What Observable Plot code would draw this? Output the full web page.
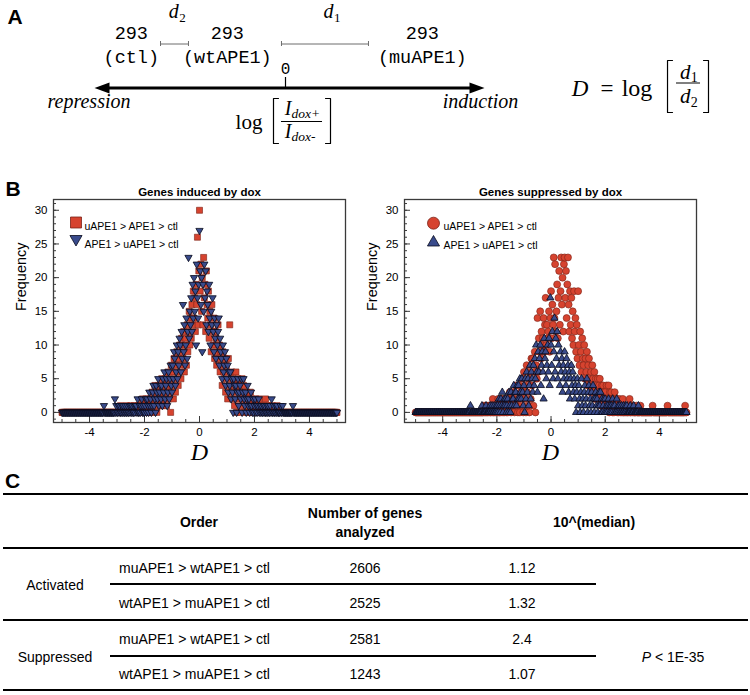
<!DOCTYPE html>
<html>
<head>
<meta charset="utf-8">
<script src="https://cdn.jsdelivr.net/npm/d3@7"></script>
<script src="https://cdn.jsdelivr.net/npm/@observablehq/plot@0.6"></script>
<style>
  html, body { margin: 0; padding: 0; background: #fff; }
  body { width: 750px; height: 695px; position: relative; overflow: hidden; font-family: "Liberation Sans", Arial, Helvetica, sans-serif; color: #000; }
  .abs { position: absolute; }
  .t { position: absolute; white-space: nowrap; }
  .rule { position: absolute; background: #000; height: 2px; }
</style>
</head>
<body>
<div id="panelA" class="abs" style="left:0;top:0;"></div>
<div id="plotInduced" class="abs" style="left:0;top:170px;"></div>
<div id="plotSuppressed" class="abs" style="left:355px;top:170px;"></div>
<div id="panelC" class="abs" style="left:0;top:470px;width:750px;height:225px;"></div>
<script>
// ================= DATA =================
// Panel B: frequency per histogram bin of D (bins of 0.025 from D = -5 to D = 5; one line per unit of D)
const binStart = -5;
const binWidth = 0.025;

// Genes induced by dox — uAPE1 > APE1 > ctl (red squares)
const inducedMu = [
  0,0,0,0,0,0,0,0,0,0, 0,0,0,0,0,0,0,0,0,0, 0,0,0,0,0,0,0,0,0,0, 0,0,0,0,0,0,0,0,0,0,
  0,0,0,0,0,0,0,0,0,0, 0,0,0,0,0,0,0,0,0,0, 0,0,0,0,0,0,0,0,0,0, 0,0,0,0,0,0,0,0,0,0,
  0,0,0,0, 0,1,0,0, 0,0,0,0, 0,0,1,0, 0,0,0,0, 1,0,0,0, 0,1,0,0, 0,0,1,0, 1,0,0,1, 0,2,0,1,
  1,0,2,0, 1,2,0,1, 0,2,1,3, 1,0,2,4, 2,3,0,1, 4,2,3,1, 2,5,1,3, 4,2,5,3, 1,4,6,2, 5,3,0,7,
  4,6,2,8, 5,3,7,9, 6,4,8,10, 7,5,11,9, 8,12,6,10, 11,7,13,9, 12,15,10,14, 11,16,13,18, 14,17,12,19, 16,26,13,21,
  30,18,22,15, 20,13,23,17, 19,12,21,16, 14,18,11,15, 13,9,16,12, 10,14,8,12, 11,7,9,13, 8,10,6,9, 7,4,9,6, 5,8,3,7,
  6,2,8,4, 13,5,3,6, 2,5,4,1, 3,6,0,4, 5,2,4,0, 3,1,5,2, 4,0,2,3, 1,3,0,2, 2,0,3,1, 0,2,1,0,
  1,0,2,1, 0,1,0,2, 1,0,1,0, 0,1,0,0, 2,0,1,0, 0,1,0,0, 0,0,1,0, 0,0,0,0, 0,1,0,0, 0,0,0,0,
  0,0,0,0,0,0,0,0,0,0, 0,0,0,0,0,0,0,0,0,0, 0,0,0,0,0,0,0,0,0,0, 0,0,0,0,0,0,0,0,0,0,
  0,0,0,0,0,0,0,0,0,0, 0,0,0,0,0,0,0,0,0,0, 0,0,0,0,0,0,0,0,0,0, 0,0,0,0,0,0,0,0,0,0, 0
];
// Genes induced by dox — APE1 > uAPE1 > ctl (blue down-triangles)
const inducedWt = [
  0,0,0,0,0,0,0,0,0,0, 0,0,0,0,0,0,0,0,0,0, 0,0,0,0,0,0,0,0,0,0, 0,0,0,0,0,0,0,0,0,0,
  0,0,0,0, 0,0,0,0, 0,0,0,0, 0,0,0,0, 0,0,0,0, 0,1,0,0, 0,0,0,0, 0,0,0,0, 0,0,0,0, 0,2,0,1,
  0,0,1,0, 1,0,0,1, 0,1,0,0, 1,0,0,1, 0,0,1,0, 1,0,1,0, 0,1,0,1, 1,0,2,0, 0,1,0,1, 2,0,1,0,
  0,1,2,0, 2,1,0,3, 1,2,0,1, 3,4,1,2, 0,4,3,2, 5,1,3,4, 2,4,1,5, 3,6,2,4, 5,1,3,6, 2,5,7,4,
  3,7,5,9, 8,4,6,10, 5,9,7,11, 10,6,12,8, 16,9,13,7, 10,14,8,12, 23,11,15,13, 17,12,19,14, 20,15,18,10, 22,17,14,19,
  27,21,16,20, 9,19,15,22, 17,21,13,18, 16,12,19,14, 10,15,13,17, 12,9,14,11, 8,13,10,12, 14,7,11,9, 8,5,10,6, 7,9,4,8,
  5,7,3,6, 4,6,2,5, 3,0,5,4, 2,4,0,3, 5,1,3,4, 2,5,0,3, 5,2,1,3, 0,2,4,1, 2,0,1,3, 1,0,2,0,
  1,2,0,1, 0,1,2,0, 1,0,1,0, 0,1,0,1, 0,0,1,0, 1,0,0,1, 0,2,0,0, 1,0,0,1, 0,1,0,0, 0,0,1,0,
  0,1,0,0, 0,0,0,0, 0,0,0,0, 0,0,0,0, 1,0,0,0, 0,0,0,0, 0,0,0,0, 0,0,0,0, 0,0,0,0, 0,0,0,0,
  0,0,0,0,0,0,0,0,0,0, 0,0,0,0,0,0,0,0,0,0, 0,0,0,0,0,0,0,0,0,0, 0,0,0,0,0,0,0,0,0,0, 0
];
// Genes suppressed by dox — uAPE1 > APE1 > ctl (red circles)
const suppressedMu = [
  0,0,0,0,0,0,0,0,0,0, 0,0,0,0,0,0,0,0,0,0, 0,0,0,0,0,0,0,0,0,0, 0,0,0,0,0,0,0,0,0,0,
  0,0,0,0,0,0,0,0,0,0, 0,0,0,0,0,0,0,0,0,0, 0,0,0,0,0,0,0,0,0,0, 0,0,0,0,0,0,0,0,0,0,
  0,0,0,0, 0,0,0,0, 0,0,0,0, 0,0,0,0, 0,0,0,0, 0,1,0,0, 1,0,0,1, 0,1,0,0, 1,0,2,0, 0,1,0,1,
  1,0,2,0, 0,1,0,2, 2,0,1,0, 1,2,0,1, 0,2,1,3, 1,0,3,2, 2,3,0,1, 4,1,2,0, 2,4,0,3, 1,5,3,0,
  6,2,4,0, 7,3,1,5, 0,6,2,8, 4,8,1,6, 9,0,7,5, 14,6,11,9, 15,8,12,10, 11,14,9,13, 17,10,13,11, 12,15,9,14,
  18,11,16,13, 23,14,22,12, 15,19,11,17, 21,13,18,23, 16,20,12,22, 23,17,21,14, 19,23,16,12, 18,13,17,11, 15,10,18,12, 14,9,13,8,
  18,10,7,12, 9,6,11,8, 7,10,5,8, 6,9,4,7, 8,5,3,6, 4,7,5,3, 6,2,5,4, 3,5,2,4, 5,3,1,4, 2,4,3,1,
  3,1,4,2, 2,4,0,3, 1,3,2,0, 2,0,3,1, 1,2,0,1, 0,2,1,0, 1,0,2,0, 0,1,0,1, 0,0,1,0, 2,0,0,1,
  0,1,0,0, 0,0,1,0, 0,0,0,0, 1,0,0,0, 0,0,0,0, 0,0,0,0, 0,0,0,0, 0,0,1,0, 0,0,0,0, 0,0,0,0,
  0,0,0,0, 0,0,0,0, 0,0,0,0, 1,0,0,0, 0,0,0,0, 0,0,0,0, 0,0,0,0, 0,0,0,0, 0,0,0,0, 0,0,1,0, 0
];
// Genes suppressed by dox — APE1 > uAPE1 > ctl (blue up-triangles)
const suppressedWt = [
  0,0,0,0,0,0,0,0,0,0, 0,0,0,0,0,0,0,0,0,0, 0,0,0,0,0,0,0,0,0,0, 0,0,0,0,0,0,0,0,0,0,
  0,0,0,0,0,0,0,0,0,0, 0,0,0,0,0,0,0,0,0,0, 0,0,0,0,0,0,0,0,0,0, 0,0,0,0,0,0,0,0,0,0,
  0,1,0,0, 0,0,0,0, 0,0,0,0, 0,0,0,0, 0,0,1,0, 0,0,0,0, 1,0,0,0, 0,0,1,0, 0,1,0,0, 1,0,0,1,
  0,1,0,2, 1,0,2,1, 3,0,1,2, 1,2,0,1, 2,0,3,1, 0,3,1,2, 2,4,1,3, 3,1,4,2, 4,2,5,3, 2,5,3,1,
  4,0,5,2, 6,3,5,1, 4,7,2,6, 5,3,7,4, 8,5,10,6, 3,9,6,8, 10,4,7,9, 6,2,11,8, 9,5,7,10, 6,11,4,17,
  10,7,12,5, 9,14,6,11, 8,12,5,10, 7,4,9,6, 8,3,7,5, 9,6,4,8, 5,7,3,6, 2,5,7,4, 6,3,5,2, 4,0,3,5,
  1,4,2,0, 3,5,1,2, 0,3,4,1, 2,5,0,3, 4,1,2,0, 3,1,4,2, 0,2,3,1, 2,0,1,3, 1,3,0,2, 0,1,2,0,
  2,0,1,0, 1,2,0,1, 0,1,0,2, 1,0,1,0, 0,2,0,1, 0,1,0,0, 1,0,0,1, 0,0,1,0, 1,0,0,0, 0,1,0,0,
  0,0,1,0, 0,0,0,0, 0,1,0,0, 0,0,0,0, 0,0,0,0, 0,0,0,0, 0,0,0,0, 0,0,0,0, 0,0,0,0, 0,0,0,0,
  0,0,0,0,0,0,0,0,0,0, 0,0,0,0,0,0,0,0,0,0, 0,0,0,0,0,0,0,0,0,0, 0,0,0,0,0,0,0,0,0,0, 0
];

const seriesLabels = ["uAPE1 > APE1 > ctl", "APE1 > uAPE1 > ctl"];
const panelTitles = ["Genes induced by dox", "Genes suppressed by dox"];
const xTicks = [-4, -2, 0, 2, 4];
const yTicks = [0, 5, 10, 15, 20, 25, 30];

// Panel A schematic (positions along the log[I dox+ / I dox-] axis)
const cellLine = "293";
const sampleNames = ["ctl", "wtAPE1", "muAPE1"];
const samplePos = [-2.57, -0.97, 2.28];
const distNames = ["2", "1"];
const distFrom = [-2.083, -0.067];
const distTo = [-1.617, 1.383];
const distLabelAt = [-1.78, 0.8];
const axisEndNames = ["repression", "induction"];
const axisEndPos = [-3.275, 3.25];
const arrowExtent = [-3.183, 3.317];

// Panel C table
const groups = ["Activated", "Suppressed"];
const orders = ["muAPE1 > wtAPE1 > ctl", "wtAPE1 > muAPE1 > ctl"];
const geneCounts = [[2606, 2525], [2581, 1243]];
const medianFold = [["1.12", "1.32"], ["2.4", "1.07"]];
const pValue = "&lt; 1E-35";

// ================= STYLE =================
const FONT = "Liberation Sans, Arial, Helvetica, sans-serif";
const SERIF = "Liberation Serif, Times New Roman, serif";
const MONO = "Liberation Mono, Courier New, monospace";
const red = "#d6432f", redEdge = "#7a2216";
const blue = "#394b8c", blueEdge = "#070a1c";
const axisColor = "#3a3a3a";

const triDown = {draw(ctx, size) {
  const y = -Math.sqrt(size / (Math.sqrt(3) * 3));
  ctx.moveTo(0, -2 * y); ctx.lineTo(-Math.sqrt(3) * y, y); ctx.lineTo(Math.sqrt(3) * y, y); ctx.closePath();
}};
const headRight = {draw(ctx) { ctx.moveTo(0, 0); ctx.lineTo(-15, -5.5); ctx.lineTo(-15, 5.5); ctx.closePath(); }};
const headLeft = {draw(ctx) { ctx.moveTo(0, 0); ctx.lineTo(15, -5.5); ctx.lineTo(15, 5.5); ctx.closePath(); }};

const toBins = counts => counts.map((freq, i) => ({D: binStart + i * binWidth, freq}));

// ================= PANEL A =================
{
  const samples = sampleNames.map((name, i) => ({name, pos: samplePos[i]}));
  const dists = distNames.map((sub, i) => ({sub, from: distFrom[i], to: distTo[i], at: distLabelAt[i]}));
  const ends = axisEndNames.map((name, i) => ({name, pos: axisEndPos[i]}));
  const it = {fontFamily: SERIF, fontStyle: "italic", lineAnchor: "bottom"};
  const rm = {fontFamily: SERIF, lineAnchor: "bottom"};
  const svg = Plot.plot({
    width: 750, height: 165, margin: 0,
    x: {domain: [-4.75, 7.75], range: [0, 750], axis: null},
    y: {domain: [0, 165], range: [0, 165], axis: null},
    style: {fontFamily: FONT, background: "transparent", color: "#000"},
    marks: [
      Plot.text(["A"], {frameAnchor: "top-left", dx: 7, dy: 23, lineAnchor: "bottom", textAnchor: "start", fontWeight: "bold", fontSize: 21}),
      Plot.ruleY(dists, {y: 43.5, x1: "from", x2: "to", stroke: "#6d6d6d", strokeWidth: 1}),
      Plot.ruleX(dists.flatMap(d => [d.from, d.to]), {x: d => d, y1: 41, y2: 46, stroke: "#6d6d6d", strokeWidth: 1}),
      Plot.text(dists, {x: "at", y: 17, text: () => "d", textAnchor: "end", fontSize: 20, ...it}),
      Plot.text(dists, {x: "at", y: 21, text: "sub", textAnchor: "start", dx: 0.5, fontSize: 13, ...rm}),
      Plot.text(samples, {x: "pos", y: 38, text: () => cellLine, fontFamily: MONO, fontSize: 18.5, lineAnchor: "bottom"}),
      Plot.text(samples, {x: "pos", y: 62, text: d => `(${d.name})`, fontFamily: MONO, fontSize: 18.5, lineAnchor: "bottom"}),
      Plot.text([0], {x: d => d, y: 73, text: d => String(d), fontFamily: MONO, fontSize: 16, lineAnchor: "bottom"}),
      Plot.ruleX([0], {x: d => d, y1: 77, y2: 87.5, stroke: "#000", strokeWidth: 1.2}),
      Plot.ruleY([87.5], {y: d => d, x1: arrowExtent[0] + 0.2, x2: arrowExtent[1] - 0.2, stroke: "#000", strokeWidth: 3}),
      Plot.dot([arrowExtent[0]], {x: d => d, y: 87.5, symbol: headLeft, fill: "#000", stroke: "none"}),
      Plot.dot([arrowExtent[1]], {x: d => d, y: 87.5, symbol: headRight, fill: "#000", stroke: "none"}),
      Plot.text(ends, {x: "pos", y: 107, text: "name", fontSize: 20, ...it}),
      Plot.text(["log"], {x: -0.608, y: 128, fontSize: 21, ...rm}),
      Plot.line([{x: -0.117, y: 98}, {x: -0.2, y: 98}, {x: -0.2, y: 143}, {x: -0.117, y: 143}], {x: "x", y: "y", stroke: "#000", strokeWidth: 1.2}),
      Plot.line([{x: 0.667, y: 98}, {x: 0.75, y: 98}, {x: 0.75, y: 143}, {x: 0.667, y: 143}], {x: "x", y: "y", stroke: "#000", strokeWidth: 1.2}),
      Plot.text(["I"], {x: 0.1, y: 114, textAnchor: "end", fontSize: 20, ...it}),
      Plot.text(["dox+"], {x: 0.1, y: 117, textAnchor: "start", fontSize: 13.5, ...it}),
      Plot.ruleY([121], {y: d => d, x1: -0.067, x2: 0.617, stroke: "#000", strokeWidth: 1}),
      Plot.text(["I"], {x: 0.1, y: 137, textAnchor: "end", fontSize: 20, ...it}),
      Plot.text(["dox-"], {x: 0.1, y: 140, textAnchor: "start", fontSize: 13.5, ...it}),
      Plot.text(["D"], {x: 4.908, y: 95, fontSize: 23, ...it}),
      Plot.text(["="], {x: 5.358, y: 95, fontSize: 23, ...rm}),
      Plot.text(["log"], {x: 5.858, y: 95, fontSize: 24, ...rm}),
      Plot.line([{x: 6.45, y: 60}, {x: 6.367, y: 60}, {x: 6.367, y: 112}, {x: 6.45, y: 112}], {x: "x", y: "y", stroke: "#000", strokeWidth: 1.2}),
      Plot.line([{x: 6.967, y: 60}, {x: 7.05, y: 60}, {x: 7.05, y: 112}, {x: 6.967, y: 112}], {x: "x", y: "y", stroke: "#000", strokeWidth: 1.2}),
      Plot.text(["d"], {x: 6.75, y: 78, textAnchor: "end", fontSize: 21, ...it}),
      Plot.text([distNames[1]], {x: 6.755, y: 81, textAnchor: "start", fontSize: 14, ...rm}),
      Plot.ruleY([82.5], {y: d => d, x1: 6.517, x2: 6.917, stroke: "#000", strokeWidth: 1}),
      Plot.text(["d"], {x: 6.75, y: 102, textAnchor: "end", fontSize: 21, ...it}),
      Plot.text([distNames[0]], {x: 6.755, y: 106, textAnchor: "start", fontSize: 14, ...rm})
    ]
  });
  document.getElementById("panelA").appendChild(svg);
}

// ================= PANEL B =================
function histPanel({width, marginLeft, marginRight, xDomain, title, layers, legend, textDx, letter}) {
  const height = 300, marginTop = 29, marginBottom = 48;
  const fw = width - marginLeft - marginRight, fh = height - marginTop - marginBottom;
  const marks = [
    Plot.frame({stroke: axisColor, strokeWidth: 1.3}),
    Plot.tickX(d3.range(-5, 5.001, 0.5), {x: d => d, insetTop: fh - 3, stroke: axisColor}),
    Plot.tickX(xTicks, {x: d => d, insetTop: fh - 6, stroke: axisColor}),
    Plot.tickY(d3.range(-1, 31.001, 1), {y: d => d, insetRight: fw - 3, stroke: axisColor}),
    Plot.tickY(yTicks, {y: d => d, insetRight: fw - 6, stroke: axisColor}),
    Plot.axisX(xTicks, {tickSize: 0, tickPadding: 5, tickFormat: d => String(d), fontSize: 11.5, label: null}),
    Plot.axisY(yTicks, {tickSize: 0, tickPadding: 6, tickFormat: d => String(d), fontSize: 11.5, label: null}),
    ...layers.map(l => Plot.dot(toBins(l.counts), {x: "D", y: "freq", symbol: l.symbol, r: l.r, fill: l.fill, stroke: l.stroke, strokeWidth: l.sw})),
    ...legend.flatMap(g => [
      Plot.dot([0], {frameAnchor: "top-left", dx: g.sdx, dy: g.sdy, symbol: g.symbol, r: g.r, fill: g.fill, stroke: g.stroke, strokeWidth: 0.8}),
      Plot.text([g.label], {frameAnchor: "top-left", dx: textDx, dy: g.tdy, textAnchor: "start", fontSize: 10.5})
    ]),
    Plot.text([title], {frameAnchor: "top", dy: -12, fontWeight: "bold", fontSize: 11.5}),
    Plot.text(["Frequency"], {frameAnchor: "left", dx: -32, rotate: -90, fontSize: 14.5}),
    Plot.text(["D"], {frameAnchor: "bottom", dy: 37, fontFamily: SERIF, fontStyle: "italic", fontSize: 24})
  ];
  if (letter) marks.push(Plot.text([letter], {frameAnchor: "top-left", dx: 5 - marginLeft, dy: -4, lineAnchor: "bottom", textAnchor: "start", fontWeight: "bold", fontSize: 21}));
  return Plot.plot({
    width, height, marginTop, marginBottom, marginLeft, marginRight,
    x: {domain: xDomain, label: null},
    y: {domain: [-1.5, 31.6], label: null},
    style: {fontFamily: FONT, fontSize: "11px", background: "transparent", color: "#000"},
    marks
  });
}

document.getElementById("plotInduced").appendChild(histPanel({
  width: 355, marginLeft: 53, marginRight: 10, xDomain: [-5.31, 5.31],
  title: panelTitles[0], letter: "B", textDx: 31,
  layers: [
    {counts: inducedMu, symbol: "square", r: 3.4, fill: red, stroke: redEdge, sw: 0.6},
    {counts: inducedWt, symbol: triDown, r: 2.7, fill: blue, stroke: blueEdge, sw: 0.8}
  ],
  legend: [
    {label: seriesLabels[0], symbol: "square", r: 6.2, fill: red, stroke: redEdge, sdx: 22.5, sdy: 23, tdy: 23},
    {label: seriesLabels[1], symbol: triDown, r: 4.5, fill: blue, stroke: blueEdge, sdx: 22.5, sdy: 39.5, tdy: 41}
  ]
}));

document.getElementById("plotSuppressed").appendChild(histPanel({
  width: 375, marginLeft: 49, marginRight: 34, xDomain: [-5.41, 5.37],
  title: panelTitles[1], textDx: 39,
  layers: [
    {counts: suppressedMu, symbol: "circle", r: 3.5, fill: red, stroke: redEdge, sw: 0.6},
    {counts: suppressedWt, symbol: "triangle", r: 2.7, fill: blue, stroke: blueEdge, sw: 0.8}
  ],
  legend: [
    {label: seriesLabels[0], symbol: "circle", r: 6, fill: red, stroke: redEdge, sdx: 29, sdy: 23.7, tdy: 23.5},
    {label: seriesLabels[1], symbol: "triangle", r: 4.5, fill: blue, stroke: blueEdge, sdx: 29, sdy: 43, tdy: 42}
  ]
}));

// ================= PANEL C =================
{
  const C = document.getElementById("panelC");
  const OFF = 470;
  const txt = (s, x, y, {anchor = "middle", size = 14, weight = "normal"} = {}) => {
    const d = document.createElement("div");
    d.className = "t";
    d.style.fontSize = size + "px";
    d.style.lineHeight = size + "px";
    d.style.fontWeight = weight;
    d.style.top = (y - OFF - 0.4885 * size) + "px";
    d.style.left = x + "px";
    if (anchor === "middle") d.style.transform = "translateX(-50%)";
    d.innerHTML = s;
    C.appendChild(d);
  };
  const rule = (y, x1, x2) => {
    const d = document.createElement("div");
    d.className = "rule";
    d.style.top = (y - OFF - 1) + "px";
    d.style.left = x1 + "px";
    d.style.width = (x2 - x1) + "px";
    C.appendChild(d);
  };
  txt("C", 5, 480.5, {anchor: "start", size: 21, weight: "bold"});
  rule(494, 3, 748);
  txt("Order", 199, 522, {weight: "bold"});
  txt("Number of genes", 365, 513, {weight: "bold"});
  txt("analyzed", 365, 532, {weight: "bold"});
  txt("10^(median)", 594, 522, {weight: "bold"});
  rule(548, 3, 748);
  const rowY = [[568, 603], [639, 674]];
  const groupY = [585, 657];
  const midRule = [584, 656];
  groups.forEach((g, gi) => {
    txt(g, 55, groupY[gi]);
    orders.forEach((o, oi) => {
      const y = rowY[gi][oi];
      txt(o, 119, y, {anchor: "start"});
      txt(String(geneCounts[gi][oi]), 365, y);
      txt(medianFold[gi][oi], 522, y);
    });
    rule(midRule[gi], 110, 596);
  });
  rule(620, 3, 748);
  txt(`<i>P</i> ${pValue}`, 673, 657);
  rule(690, 3, 748);
}
</script>
</body>
</html>
